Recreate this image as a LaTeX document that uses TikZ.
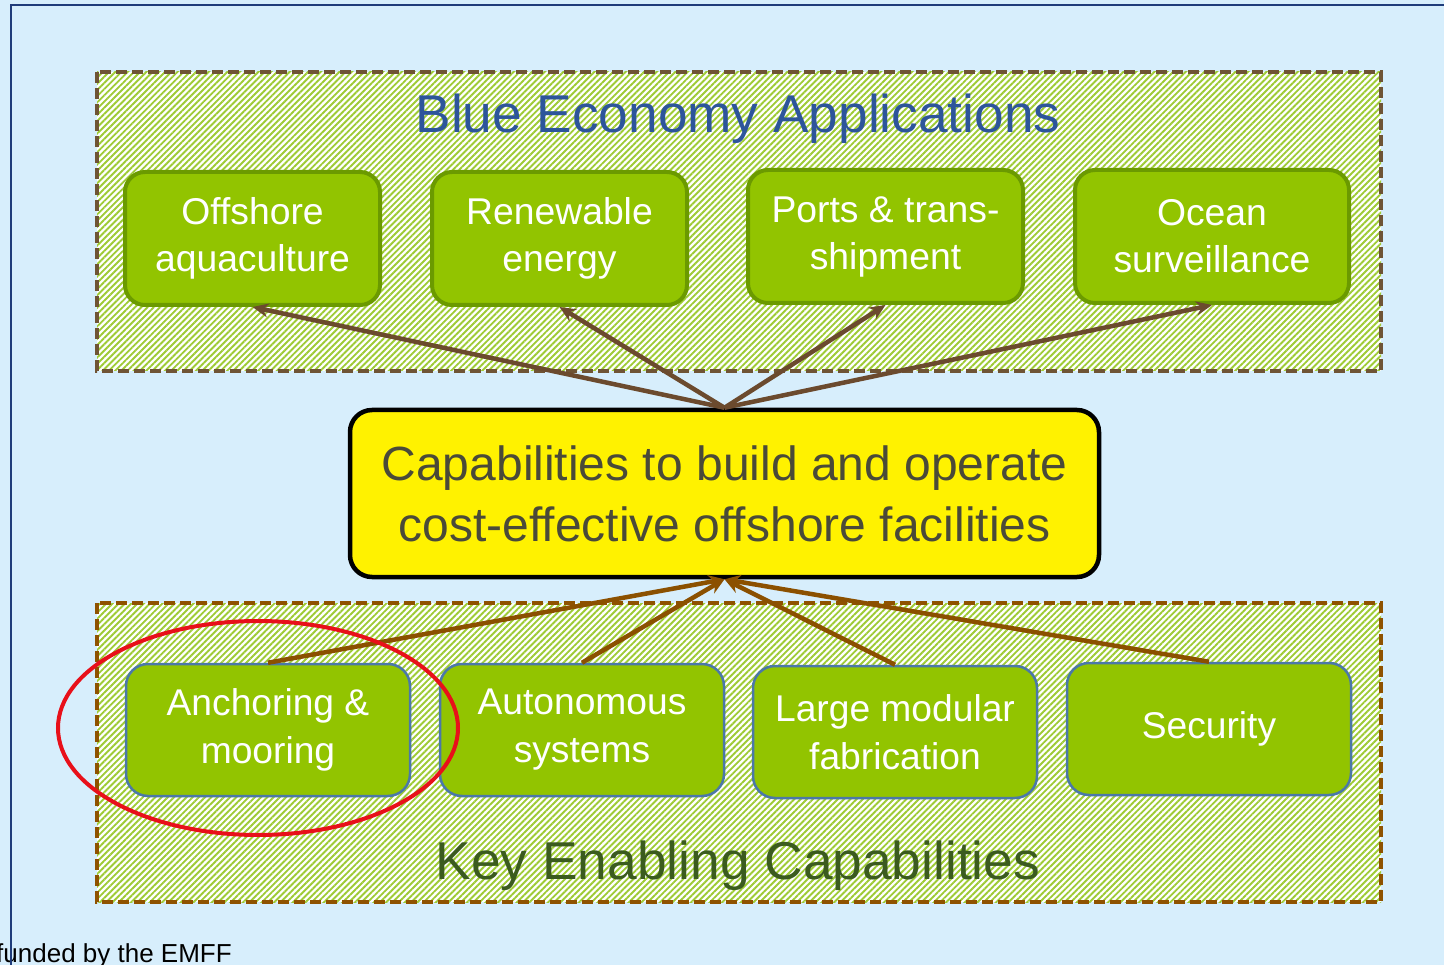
\documentclass[tikz,border=0pt]{standalone}
\usepackage{fontspec}
\setmainfont{Liberation Sans}
\usetikzlibrary{arrows.meta,patterns.meta}
\definecolor{bgblue}{HTML}{D7EEFC}
\definecolor{hatch}{HTML}{9ECB35}
\definecolor{boxfill}{HTML}{92C400}
\definecolor{topborder}{HTML}{6B9A00}
\definecolor{botborder}{HTML}{4B78A8}
\definecolor{yeltext}{HTML}{4A4A38}
\definecolor{titleblue}{HTML}{2D559B}
\definecolor{keygreen}{HTML}{3B5B1F}
\definecolor{topdash}{HTML}{6F5435}
\definecolor{botdash}{HTML}{8F5200}
\definecolor{toparrow}{HTML}{6B4A2E}
\definecolor{botarrow}{HTML}{8B5000}
\definecolor{framecol}{HTML}{1F3C7A}
\definecolor{ringred}{HTML}{E8101A}
\begin{document}
\begin{tikzpicture}[x=1pt,y=-1pt,
  region/.style={preaction={fill=white},pattern={Lines[angle=45,distance=4.4pt,line width=1.9pt]},pattern color=hatch,line width=3.2pt,dash pattern=on 11pt off 5pt},
  appbox/.style={draw=topborder,line width=4pt,fill=boxfill,rounded corners=20pt,text=white,align=center,inner sep=0pt,font=\fontsize{37.3}{47}\selectfont},
  capbox/.style={draw=botborder,line width=2.5pt,fill=boxfill,rounded corners=22pt,text=white,align=center,inner sep=0pt,font=\fontsize{37.2}{48}\selectfont},
  toparr/.style={draw=toparrow,line width=4.5pt,-{Stealth[length=16pt,width=14pt]}},
  botarr/.style={draw=botarrow,line width=4.5pt,-{Stealth[length=16pt,width=14pt]}}
]
\useasboundingbox (0,0) rectangle (1444,965);
\fill[bgblue] (0,0) rectangle (1444,965);
% regions
\path[region,draw=topdash] (97,72) rectangle (1381,371);
\path[region,draw=botdash] (97,603) rectangle (1381,902);
% titles
\node[anchor=base,text=titleblue,font=\fontsize{53.2}{60}\selectfont,inner sep=0pt] (t1) at (738,133) {Blue Economy Applications};
\node[anchor=base,text=keygreen,font=\fontsize{53.3}{60}\selectfont,inner sep=0pt] (t2) at (738,879) {Key Enabling Capabilities};
% top boxes
\node[appbox,minimum width=255pt,minimum height=133pt] (aq) at (252.5,238.5) {Offshore\\aquaculture};
\node[appbox,minimum width=255pt,minimum height=133pt] (re) at (559.5,238.5) {Renewable\\energy};
\node[appbox,minimum width=275pt,minimum height=133pt] (po) at (885.5,236.5) {Ports \& trans-\\shipment};
\node[appbox,minimum width=274pt,minimum height=133pt] (oc) at (1212,236.5) {Ocean\\surveillance};
% bottom boxes
\node[capbox,minimum width=284pt,minimum height=132pt] (an) at (268,730) {Anchoring \&\\mooring};
\node[capbox,minimum width=284pt,minimum height=132pt] (au) at (582,730) {Autonomous\\systems};
\node[capbox,minimum width=284pt,minimum height=132pt] (la) at (895,732) {Large modular\\fabrication};
\node[capbox,minimum width=284pt,minimum height=132pt] (se) at (1209,729) {Security};
% central box
\node[draw=black,line width=4.5pt,fill=yellow,rounded corners=22pt,minimum width=749pt,minimum height=167pt,align=center,text=yeltext,inner sep=0pt,font=\fontsize{48}{61}\selectfont] (yel) at (724.5,493.5) {Capabilities to build and operate\\cost-effective offshore facilities};
% arrows
\draw[toparr] (yel.north) -- (aq.south);
\draw[toparr] (yel.north) -- (re.south);
\draw[toparr] (yel.north) -- (po.south);
\draw[toparr] (yel.north) -- (oc.south);
\draw[botarr] (an.north) -- (yel.south);
\draw[botarr] (au.north) -- (yel.south);
\draw[botarr] (la.north) -- (yel.south);
\draw[botarr] (se.north) -- (yel.south);
% footer
\node[anchor=base west,inner sep=0pt,font=\fontsize{26}{30}\selectfont] (foot) at (-4,962) {funded by the EMFF};
% outer frame
\draw[framecol,line width=2pt] (1450,5) -- (11,5) -- (11,970);
% red ring
\draw[ringred,line width=4pt] (258,728) ellipse [x radius=200pt,y radius=107pt];
\end{tikzpicture}
\end{document}
